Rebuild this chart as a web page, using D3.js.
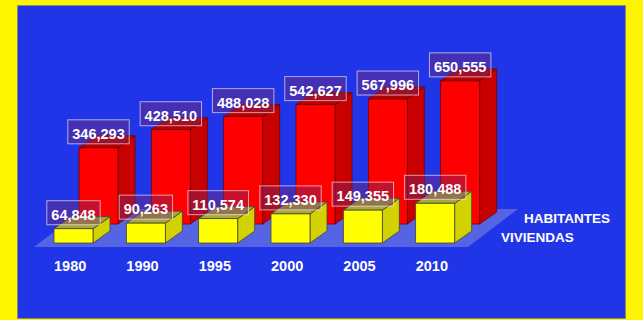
<!DOCTYPE html>
<html>
<head>
<meta charset="utf-8">
<script src="https://cdn.jsdelivr.net/npm/d3@7"></script>
<style>
  html, body { margin: 0; padding: 0; background: #fcf400; }
  svg { display: block; }
  text { font-family: "Liberation Sans", Arial, sans-serif; font-weight: bold; fill: #fff; }
</style>
</head>
<body>
<div id="chart"></div>
<script>
// 1: DATA
const years = ["1980", "1990", "1995", "2000", "2005", "2010"];
const habitantes = [346293, 428510, 488028, 542627, 567996, 650555];
const viviendas = [64848, 90263, 110574, 132330, 149355, 180488];
const seriesNames = ["VIVIENDAS", "HABITANTES"]; // front row first

// 2: GLOBALS
const W = 643, H = 320;
const floor = { x0: 34, x1: 468, y: 247 };      // front edge of the floor
const rowStep = { dx: 25, dy: -19 };            // shift from one row to the next (back)
const depth = { dx: 17, dy: -12 };              // depth of every box
const barW = 39;

const svg = d3.select("#chart").append("svg")
  .attr("width", W)
  .attr("height", H);

// background
svg.append("rect").attr("width", W).attr("height", H).attr("fill", "#fcf400");
svg.append("rect")
  .attr("x", 17.5).attr("y", 5.5)
  .attr("width", 608).attr("height", 313)
  .attr("fill", "#2135e8")
  .attr("stroke", "#8a8a70").attr("stroke-width", 1);

// 3: SCALES
const xScale = d3.scaleBand()
  .domain(years)
  .range([floor.x0, floor.x1]);

const hScale = d3.scaleLinear()
  .domain([0, 700000])
  .range([0, 154]);

const fmt = d3.format(",");

// floor
const backDx = rowStep.dx * 2, backDy = rowStep.dy * 2;
svg.append("path")
  .attr("d", `M${floor.x0},${floor.y} L${floor.x1},${floor.y} L${floor.x1 + backDx},${floor.y + backDy} L${floor.x0 + backDx},${floor.y + backDy} Z`)
  .attr("fill", "rgba(170,180,215,0.38)");

// 4: BARS
const series = [
  { name: "VIVIENDAS", values: viviendas, row: 0, front: "#ffff00", side: "#d2d200", top: "#a9a93a", line: "#44443a" },
  { name: "HABITANTES", values: habitantes, row: 1, front: "#ff0000", side: "#c80000", top: "#b80000", line: "#700000" }
];

function boxGeom(s, i) {
  const x = xScale(years[i]) + 20 + s.row * rowStep.dx;
  const base = floor.y - 4 + s.row * rowStep.dy;
  const h = hScale(s.values[i]);
  return { x, base, top: base - h };
}

// draw back row first
series.slice().reverse().forEach(s => {
  const g = svg.append("g");
  const bars = g.selectAll("g.bar")
    .data(s.values.map((v, i) => boxGeom(s, i)))
    .enter().append("g").attr("class", "bar");

  // side
  bars.append("path")
    .attr("d", d => `M${d.x + barW},${d.base} L${d.x + barW + depth.dx},${d.base + depth.dy} L${d.x + barW + depth.dx},${d.top + depth.dy} L${d.x + barW},${d.top} Z`)
    .attr("fill", s.side).attr("stroke", s.line).attr("stroke-width", 0.8);
  // top
  bars.append("path")
    .attr("d", d => `M${d.x},${d.top} L${d.x + barW},${d.top} L${d.x + barW + depth.dx},${d.top + depth.dy} L${d.x + depth.dx},${d.top + depth.dy} Z`)
    .attr("fill", s.top).attr("stroke", s.line).attr("stroke-width", 0.8);
  // front
  bars.append("rect")
    .attr("x", d => d.x).attr("y", d => d.top)
    .attr("width", barW).attr("height", d => d.base - d.top)
    .attr("fill", s.front).attr("stroke", s.line).attr("stroke-width", 0.8);
});

// 5: AXIS LABELS (years along the front edge)
svg.append("g").selectAll("text")
  .data(years)
  .enter().append("text")
  .attr("x", d => xScale(d) + xScale.bandwidth() / 2)
  .attr("y", 271)
  .attr("text-anchor", "middle")
  .style("font-size", "14.5px")
  .text(d => d);

// series names along the depth axis
series.forEach(s => {
  svg.append("text")
    .attr("x", floor.x1 + 33 + s.row * (rowStep.dx - 2))
    .attr("y", floor.y - 5 + s.row * rowStep.dy)
    .style("font-size", "13.5px")
    .text(s.name);
});

// 6: VALUE LABELS
const labels = svg.append("g");
series.forEach(s => {
  s.values.forEach((v, i) => {
    const d = boxGeom(s, i);
    const cx = d.x + barW / 2;
    const lg = labels.append("g");
    const t = lg.append("text")
      .attr("x", cx)
      .attr("y", d.top - 9)
      .attr("text-anchor", "middle")
      .style("font-size", "14.5px")
      .text(fmt(v));
    const tw = t.node().getComputedTextLength();
    lg.insert("rect", "text")
      .attr("x", cx - tw / 2 - 4.5)
      .attr("y", d.top - 28)
      .attr("width", tw + 9)
      .attr("height", 24)
      .attr("fill", "rgba(120,40,110,0.42)")
      .attr("stroke", "rgba(255,255,255,0.6)")
      .attr("stroke-width", 1);
  });
});
</script>
</body>
</html>
